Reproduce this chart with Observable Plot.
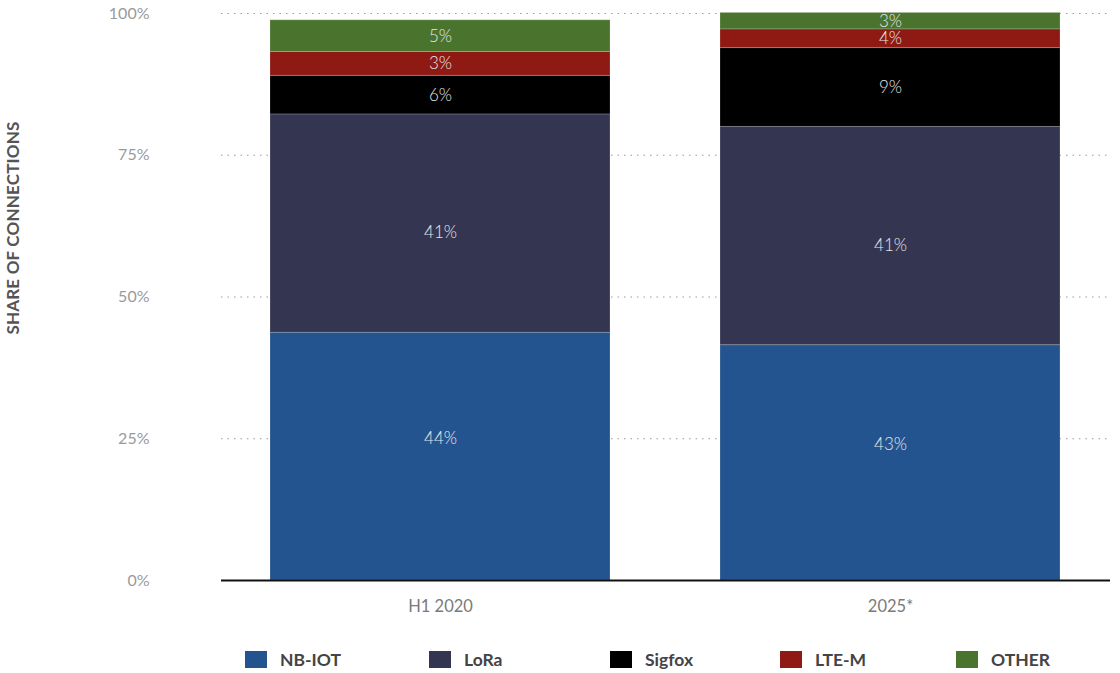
<!DOCTYPE html>
<html>
<head>
<meta charset="utf-8">
<script src="https://cdn.jsdelivr.net/npm/d3@7"></script>
<script src="https://cdn.jsdelivr.net/npm/@observablehq/plot@0.6"></script>
<style>
  html, body { margin: 0; padding: 0; background: #fff; font-family: Lato, "Noto Sans", sans-serif; }
  #wrap { position: relative; width: 1120px; }
  #chart svg { display: block; }
  g[aria-label="y-axis tick label"] text { fill: #9a9a9a; }
  g[aria-label="x-axis tick label"] text { fill: #7a7a7a; }
  #ytitle { position: absolute; left: 12px; top: 228px; transform: translate(-50%, -50%) rotate(-90deg);
    white-space: nowrap; font-size: 17px; font-weight: 700; color: #555; letter-spacing: 0.2px; }
  #legend { position: relative; height: 48px; }
  .item { position: absolute; top: 24px; display: flex; align-items: center; font-size: 17.5px; font-weight: 700; color: #444; }
  .sw { width: 22px; height: 17px; margin-right: 13px; box-sizing: border-box; }
</style>
</head>
<body>
<div id="wrap">
<div id="chart"></div>
<div id="ytitle">SHARE OF CONNECTIONS</div>
<div id="legend"></div>
</div>
<script>
const categories = ["H1 2020", "2025*"];
const series = ["NB-IOT", "LoRa", "Sigfox", "LTE-M", "OTHER"];
const valuesH1 = [43.7, 38.5, 6.8, 4.2, 5.6];
const values2025 = [41.5, 38.5, 13.9, 3.3, 2.9];
const labelsH1 = ["44%", "41%", "6%", "3%", "5%"];
const labels2025 = ["43%", "41%", "9%", "4%", "3%"];
const colors = ["#24548f", "#343551", "#000000", "#8e1a13", "#4a742e"];
const yTicks = [0, 25, 50, 75, 100];

const rows = [];
[valuesH1, values2025].forEach((vals, ci) => {
  const labs = ci === 0 ? labelsH1 : labels2025;
  vals.forEach((v, si) => rows.push({cat: categories[ci], series: series[si], value: v, label: labs[si]}));
});

const labelDy = {"NB-IOT": -18, "LoRa": 9};

const plot = Plot.plot({
  width: 1120,
  height: 625,
  marginLeft: 221,
  marginRight: 10,
  marginTop: 13,
  marginBottom: 45,
  style: {fontFamily: "Lato, 'Noto Sans', sans-serif", background: "#fff"},
  x: {domain: categories, paddingInner: 0.244, paddingOuter: 0.108, label: null},
  y: {domain: [0, 100], label: null},
  color: {domain: series, range: colors},
  marks: [
    Plot.gridY(yTicks, {stroke: "#9a9a9a", strokeOpacity: 1, strokeDasharray: "1.5,5", strokeWidth: 1.2}),
    Plot.barY(rows, {x: "cat", y: "value", fill: "series", stroke: "#ffffff", strokeOpacity: 0.18, strokeWidth: 1}),
    ...series.map(s => Plot.text(rows, Plot.filter(d => d.series === s, Plot.stackY({
      x: "cat", y: "value", z: "series", text: "label", fill: "#e4e4e4", fontSize: 17, fontWeight: 300, dy: labelDy[s] || 0
    })))),
    Plot.ruleY([0], {stroke: "#111", strokeWidth: 2}),
    Plot.axisY({ticks: yTicks, tickFormat: d => d + "%", tickSize: 0, tickPadding: 72, fontSize: 16, label: null}),
    Plot.axisX({tickSize: 0, tickPadding: 20, fontSize: 16.5, label: null})
  ]
});
document.getElementById("chart").appendChild(plot);

const legend = document.getElementById("legend");
const lefts = [245, 429, 610, 780, 956];
series.forEach((s, i) => {
  const it = document.createElement("div");
  it.className = "item";
  it.style.left = lefts[i] + "px";
  const sw = document.createElement("div");
  sw.className = "sw";
  sw.style.background = colors[i];
  const t = document.createElement("span");
  t.textContent = s;
  it.appendChild(sw); it.appendChild(t);
  legend.appendChild(it);
});
</script>
</body>
</html>
